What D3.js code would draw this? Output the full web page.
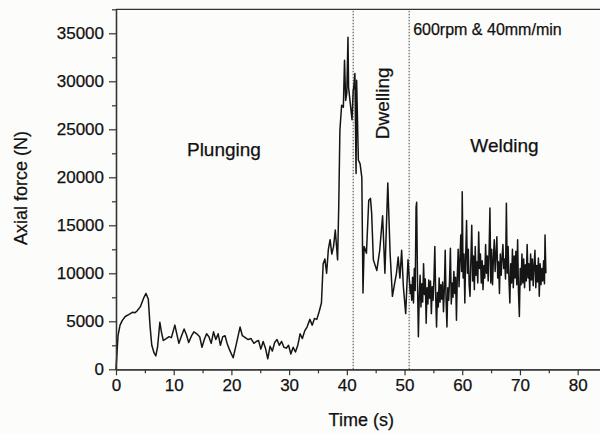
<!DOCTYPE html>
<html><head><meta charset="utf-8">
<script src="https://cdn.jsdelivr.net/npm/d3@7"></script>
<style>body{margin:0;background:#fcfcfa;}svg{display:block;font-family:"Liberation Sans",Arial,sans-serif;}</style>
</head><body>
<svg id="c" width="600" height="434"></svg>
<script>
// Time (s), Axial force (N)
const plungingData = [[0,0],[0.15,1500],[0.35,3500],[0.7,4600],[1.1,5100],[1.6,5500],[2.2,5700],[2.9,5950],[3.3,5900],[3.6,6050],[4.2,6500],[4.85,7500],[5.2,7900],[5.6,7300],[5.9,4500],[6.2,2500],[6.6,1700],[6.9,1400],[7.2,2300],[7.6,4900],[7.9,3800],[8.2,3000],[8.7,3200],[9.2,3400],[9.6,3300],[10.2,4600],[10.6,3500],[10.9,2700],[11.3,3400],[11.8,4200],[12.2,3600],[12.6,2800],[13.1,3500],[13.5,3900],[14,3700],[14.5,3400],[14.9,2300],[15.3,3100],[15.7,3700],[16.1,3400],[16.5,2700],[16.9,3900],[17.3,3100],[17.7,3700],[18.1,2500],[18.5,3400],[18.9,3500],[19.3,2600],[19.7,2000],[20.3,1200],[20.8,2500],[21.5,4400],[21.9,3500],[22.4,3300],[22.9,3100],[23.4,3200],[23.9,2700],[24.3,2900],[24.7,3000],[25.1,2100],[25.5,2900],[25.9,2200],[26.3,1100],[26.7,2400],[27.1,1900],[27.5,2800],[27.9,3100],[28.3,2500],[28.7,2900],[29.1,2300],[29.5,2200],[29.9,2500],[30.3,1600],[30.7,2300],[31.1,1800],[31.5,2500],[31.9,3700],[32.3,3200],[32.7,4000],[33.1,4400],[33.6,5200],[34,4600],[34.4,5300],[34.8,5200],[35.2,6000],[35.6,6900],[35.9,11000],[36.2,11500],[36.5,10000],[36.8,12500],[37.1,13500],[37.4,12000],[37.7,12800],[38.0,14500],[38.4,11400],[38.6,17000],[38.8,24900],[39.1,27500],[39.4,27300],[39.6,32200],[39.8,28000],[40.0,28800],[40.2,34600],[40.3,29400],[40.6,27700],[40.9,26000],[41.1,29000]];
const dwellingData = [[41.2,29400],[41.4,30800],[41.6,20400],[41.7,30100],[42.0,21800],[42.3,21400],[42.6,20000],[42.8,7950],[43.0,12800],[43.4,12100],[43.8,17600],[44.1,17800],[44.3,16300],[44.6,11400],[45.2,10300],[45.7,12400],[46.2,16000],[46.6,10000],[47.1,19400],[47.5,12100],[47.9,7600],[48.3,9000],[48.6,10000],[48.9,11700],[49.2,9500],[49.5,12400],[49.8,8600],[50.2,5800],[50.6,11400],[51.0,7900]];
const weldingData = [[51.1,8800],[51.25,7200],[51.4,9600],[51.55,6900],[51.7,10500],[51.85,8200],[52.0,16900],[52.1,17400],[52.25,9000],[52.4,3400],[52.55,7500],[52.7,9800],[52.85,6500],[53.0,8900],[53.15,7000],[53.3,11000],[53.45,7800],[53.6,9400],[53.75,4800],[53.9,8500],[54.05,6800],[54.2,9300],[54.35,7400],[54.5,9200],[54.65,5800],[54.8,8600],[54.95,7200],[55.1,9400],[55.25,12800],[55.4,7600],[55.55,4400],[55.7,8000],[55.85,6500],[56.0,9500],[56.15,7000],[56.3,8800],[56.45,7300],[56.6,9100],[56.75,6000],[56.9,8400],[57.05,12400],[57.2,7200],[57.35,4400],[57.5,8500],[57.65,7200],[57.8,9300],[57.95,12600],[58.1,6800],[58.25,9000],[58.4,7500],[58.55,10200],[58.7,7900],[58.85,9600],[59.0,5100],[59.15,9800],[59.3,12500],[59.45,8600],[59.6,11400],[59.75,14000],[59.9,10200],[60.0,18500],[60.15,9500],[60.3,12000],[60.45,6900],[60.6,11800],[60.75,15500],[60.9,10000],[61.05,12500],[61.2,8800],[61.35,7600],[61.5,11500],[61.65,15000],[61.8,9200],[61.95,11800],[62.1,8300],[62.25,12800],[62.4,9800],[62.55,11200],[62.7,9000],[62.85,14300],[63.0,10500],[63.15,12000],[63.3,9000],[63.45,11300],[63.6,8300],[63.75,10800],[63.9,9500],[64.05,13000],[64.2,10000],[64.35,11800],[64.5,9200],[64.65,12200],[64.8,16800],[64.95,9000],[65.1,12500],[65.25,8800],[65.4,11500],[65.55,13500],[65.7,10200],[65.85,12000],[66.0,13800],[66.15,9500],[66.3,11200],[66.45,7900],[66.6,12000],[66.75,9800],[66.9,11600],[67.05,13000],[67.2,10500],[67.35,11500],[67.5,9400],[67.65,17300],[67.8,10000],[67.95,12800],[68.1,9300],[68.25,6900],[68.4,11000],[68.55,9000],[68.7,12500],[68.85,8500],[69.0,11800],[69.15,9500],[69.3,12300],[69.45,8800],[69.6,13500],[69.75,8000],[69.9,5500],[70.05,10500],[70.2,8800],[70.35,12000],[70.5,9000],[70.65,11500],[70.8,8500],[70.95,10900],[71.1,9200],[71.25,13000],[71.4,9500],[71.55,11000],[71.7,8200],[71.85,12000],[72.0,9300],[72.15,11500],[72.3,8700],[72.45,10800],[72.6,12400],[72.75,8500],[72.9,10800],[73.05,9100],[73.2,11600],[73.35,7600],[73.5,11000],[73.65,8800],[73.8,10500],[73.95,9200],[74.1,11300],[74.25,8900],[74.35,14000],[74.5,10000]];
const phaseBoundaries = [41.1, 50.8];
const xTicks = [0,10,20,30,40,50,60,70,80];
const yTicks = [0,5000,10000,15000,20000,25000,30000,35000];
const annotations = [
  {text:"Plunging", t:12.3, f:22200, rotate:false},
  {text:"Welding", t:61.4, f:22600, rotate:false},
  {text:"Dwelling", t:47.3, f:27700, rotate:true},
  {text:"600rpm & 40mm/min", t:51.5, f:34800, rotate:false, small:true}
];

const svg = d3.select("#c");
const x = d3.scaleLinear().domain([0,85]).range([116,606.5]);
const y = d3.scaleLinear().domain([0,37500]).range([369.3,9.3]);
const axisColor = "#333";
const textStyle = s => s.attr("fill","#111").attr("stroke","#111").attr("stroke-width",0.25);

svg.append("line").attr("x1",x(0)).attr("x2",x(85)).attr("y1",y(37500)).attr("y2",y(37500)).attr("stroke",axisColor).attr("stroke-width",1.3);

svg.selectAll(".pl").data(phaseBoundaries).join("line")
  .attr("x1",d=>x(d)).attr("x2",d=>x(d)).attr("y1",y(0)).attr("y2",y(37500))
  .attr("stroke","#444").attr("stroke-width",1).attr("stroke-dasharray","1.5,1.5");

const allData = plungingData.concat(dwellingData, weldingData);
const line = d3.line().x(d=>x(d[0])).y(d=>y(d[1]));
svg.append("path").datum(allData).attr("d",line).attr("fill","none")
  .attr("stroke","#151515").attr("stroke-width",1.5).attr("stroke-linejoin","round");

const fmt = d3.format("d");
const xAxis = svg.append("g").attr("transform",`translate(0,${y(0)})`)
  .call(d3.axisBottom(x).tickValues(xTicks).tickFormat(fmt).tickSize(6).tickPadding(4).tickSizeOuter(0));
const xMinor = svg.append("g").attr("transform",`translate(0,${y(0)})`)
  .call(d3.axisBottom(x).tickValues([5,15,25,35,45,55,65,75,85]).tickSize(4).tickFormat("").tickSizeOuter(0));
const yAxis = svg.append("g").attr("transform",`translate(${x(0)},0)`)
  .call(d3.axisLeft(y).tickValues(yTicks).tickFormat(fmt).tickSize(7).tickPadding(5).tickSizeOuter(0));
const yMinor = svg.append("g").attr("transform",`translate(${x(0)},0)`)
  .call(d3.axisLeft(y).tickValues([2500,7500,12500,17500,22500,27500,32500,37500]).tickSize(4).tickFormat("").tickSizeOuter(0));
[xAxis,xMinor,yAxis,yMinor].forEach(g=>{
  g.select(".domain").attr("stroke",axisColor).attr("stroke-width",1.3);
  g.selectAll(".tick line").attr("stroke",axisColor).attr("stroke-width",1.2);
  g.selectAll(".tick text").call(textStyle).style("font-size","17px").style("font-family","'Liberation Sans',Arial,sans-serif");
});

svg.append("text").attr("x",x(42.5)).attr("y",426).attr("text-anchor","middle")
  .style("font-size","18px").call(textStyle).text("Time (s)");
svg.append("text").attr("transform","translate(27,188) rotate(-90)").attr("text-anchor","middle")
  .style("font-size","18px").call(textStyle).text("Axial force (N)");

annotations.forEach(a=>{
  const t = svg.append("text").call(textStyle).style("font-size",a.small?"16px":"19px").text(a.text);
  if(a.rotate){
    t.attr("transform",`translate(${x(a.t)},${y(a.f)}) rotate(-90)`).attr("text-anchor","middle");
  } else {
    t.attr("x",x(a.t)).attr("y",y(a.f));
  }
});
</script>
</body></html>
